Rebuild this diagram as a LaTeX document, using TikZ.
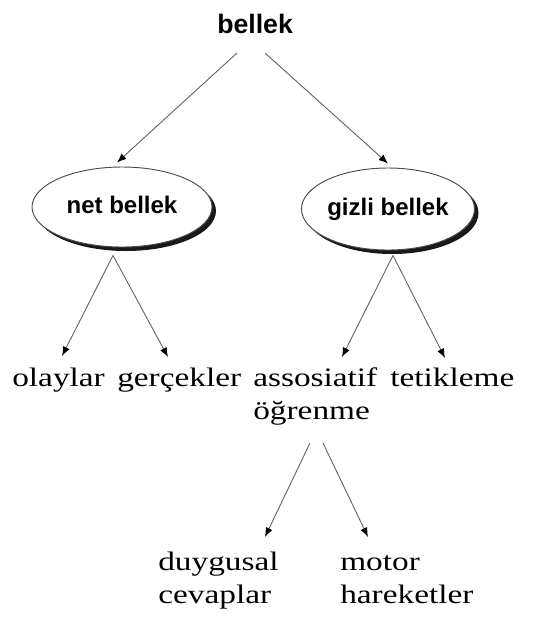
\documentclass[tikz,border=0pt]{standalone}
\usepackage{fontspec}
\newfontfamily\headfont{Liberation Sans}
\newfontfamily\leaffont{Liberation Serif}[FakeStretch=1.25]
\usetikzlibrary{arrows.meta,calc,shapes.geometric,shadows}

\begin{document}
\begin{tikzpicture}[x=0.75pt,y=-0.75pt,
    bubble/.style={ellipse,draw=black!70,line width=0.7pt,fill=white,inner sep=0pt,
      text height=13pt,text depth=4pt,
      font=\headfont\bfseries\fontsize{18}{21}\selectfont,
      drop shadow={shadow xshift=3pt,shadow yshift=-3pt,fill=black,opacity=0.9}},
    leaf/.style={anchor=base west,inner sep=0pt,align=left,
      font=\leaffont\fontsize{20}{24.75}\selectfont},
    link/.style={draw=black!60,line width=0.7pt,-{Latex[length=7pt,width=5.5pt,color=black]}}]
    \useasboundingbox (0,0) rectangle (544,633);
    \node[anchor=base west,inner sep=0pt,font=\headfont\bfseries\fontsize{20}{24}\selectfont] (bellek) at (217,33) {bellek};
    \node[bubble,minimum width=135pt,minimum height=60pt] (net) at (122,207) {net bellek};
    \node[bubble,minimum width=129.75pt,minimum height=61.5pt] (gizli) at (388,209) {gizli bellek};
    \node[leaf] (olaylar) at (12,386) {olaylar};
    \node[leaf] (gercekler) at (117,386) {gerçekler};
    \node[leaf] (assosiatif) at (253,419) {assosiatif\\öğrenme};
    \node[leaf] (tetikleme) at (390,386) {tetikleme};
    \node[leaf] (duygusal) at (158,603) {duygusal\\cevaplar};
    \node[leaf] (motor) at (340,603) {motor\\hareketler};
    \draw[link] ($(bellek.base west)+(20,20)$) -- ($(net.north)+(-5,-4)$);
    \draw[link] ($(bellek.base west)+(48,20)$) -- ($(gizli.north)+(0,-4)$);
    \draw[link] ($(net.south)+(-9,8)$) -- ($(olaylar.base west)+(50,-30)$);
    \draw[link] ($(net.south)+(-9,8)$) -- ($(gercekler.base west)+(51,-29)$);
    \draw[link] ($(gizli.south)+(5,5)$) -- ($(assosiatif.base west)+(89,-62)$);
    \draw[link] ($(gizli.south)+(5,5)$) -- ($(tetikleme.base west)+(55,-28)$);
    \draw[link] ($(assosiatif.base west)+(57,24)$) -- ($(duygusal.base west)+(107,-66)$);
    \draw[link] ($(assosiatif.base west)+(70,24)$) -- ($(motor.base west)+(28,-66)$);
\end{tikzpicture}
\end{document}
